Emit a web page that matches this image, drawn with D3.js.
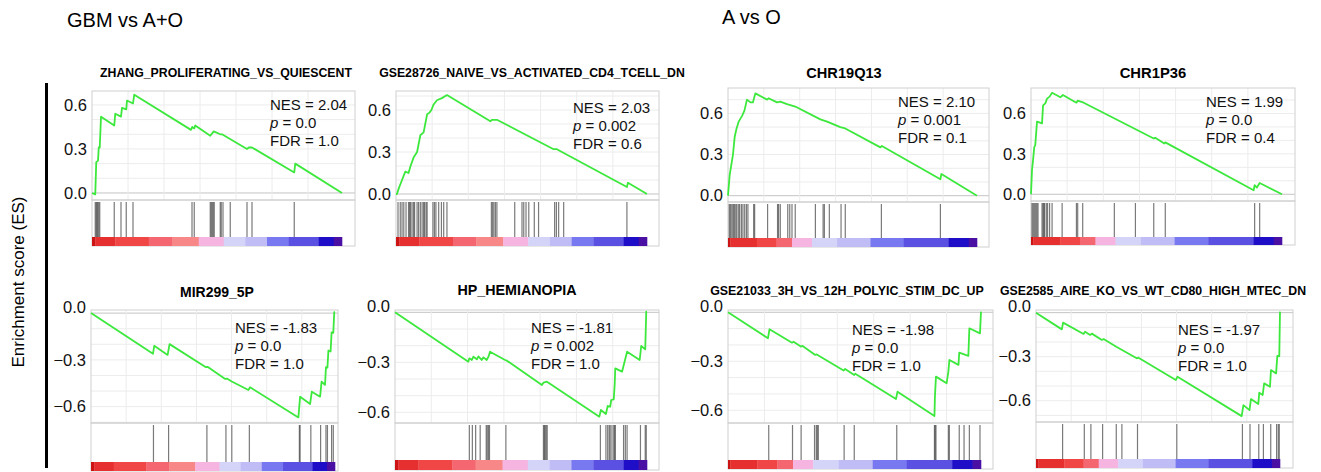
<!DOCTYPE html>
<html>
<head>
<meta charset="utf-8">
<script src="https://cdn.jsdelivr.net/npm/d3@7"></script>
<style>
  body { margin: 0; background: #fff; }
  text { font-family: "Liberation Sans", Arial, Helvetica, sans-serif; }
</style>
</head>
<body>
<svg id="chart" width="1321" height="472"></svg>
<script>
// gene set names, stats
var titles = ["ZHANG_PROLIFERATING_VS_QUIESCENT", "GSE28726_NAIVE_VS_ACTIVATED_CD4_TCELL_DN",
  "CHR19Q13", "CHR1P36", "MIR299_5P", "HP_HEMIANOPIA",
  "GSE21033_3H_VS_12H_POLYIC_STIM_DC_UP", "GSE2585_AIRE_KO_VS_WT_CD80_HIGH_MTEC_DN"];
var nesValues = ["2.04", "2.03", "2.10", "1.99", "-1.83", "-1.81", "-1.98", "-1.97"];
var pValues = ["0.0", "0.002", "0.001", "0.0", "0.0", "0.002", "0.0", "0.0"];
var fdrValues = ["1.0", "0.6", "0.1", "0.4", "1.0", "1.0", "1.0", "1.0"];
var ticksUp = [0, 0.3, 0.6];
var ticksDown = [0, -0.3, -0.6];
var rankGrid = [14.4, 28.8, 43.2, 57.6, 72, 86.4];   // rank in % of the ranked list

// running ES curves, [rank %, ES]
var esZhang = [[0,0],[1.3,-0.01],[1.7,0.21],[2.4,0.22],[2.7,0.31],[3.1,0.31],[3.6,0.52],[8.9,0.46],[9.3,0.54],
  [11.6,0.52],[12,0.58],[13.7,0.57],[14,0.63],[16.4,0.61],[16.9,0.67],[39.6,0.43],[40.1,0.45],[40.9,0.44],
  [41.3,0.46],[47.3,0.39],[48.7,0.42],[51.3,0.40],[52,0.40],[62,0.30],[62.7,0.31],[64,0.31],[80.9,0.14],
  [81.3,0.20],[100,0]];
var esNaive = [[0,0],[0.4,0],[1.1,0.04],[2.4,0.10],[3.7,0.16],[5.0,0.15],[5.7,0.195],[7.0,0.26],[8.4,0.30],
  [9.7,0.42],[11.0,0.44],[12.4,0.57],[13.3,0.58],[14.1,0.60],[15.0,0.64],[16.3,0.67],[18.3,0.685],[20.3,0.707],
  [37.6,0.52],[38.2,0.53],[40.2,0.53],[62.8,0.32],[64.1,0.32],[66.1,0.30],[92.0,0.05],[92.4,0.08],[100,0]];
var esChr19 = [[0,0],[0.67,0.15],[1.2,0.21],[2.0,0.30],[2.7,0.43],[3.3,0.48],[4.3,0.54],[5.6,0.58],[6.6,0.62],
  [7.6,0.70],[9.0,0.68],[10.0,0.68],[11.0,0.746],[15.7,0.70],[16.3,0.71],[19.7,0.68],[21.0,0.685],[23.7,0.668],
  [27.0,0.65],[37.1,0.556],[39.8,0.54],[45.1,0.50],[47.1,0.49],[61.2,0.352],[61.8,0.362],[85.3,0.12],
  [85.7,0.158],[100,0]];
var esChr1 = [[0,0],[0.4,0.18],[0.8,0.25],[1.3,0.35],[1.7,0.365],[2.4,0.54],[4.4,0.526],[4.8,0.66],[5.7,0.675],
  [6.4,0.71],[7.4,0.725],[8.4,0.754],[11.7,0.72],[12.7,0.737],[18.1,0.68],[18.6,0.695],[21.0,0.68],
  [48.9,0.414],[49.5,0.42],[53.1,0.377],[53.5,0.385],[88.7,0.03],[89.1,0.067],[90.0,0.05],[91.1,0.084],[100,0]];
var esMir = [[0,0],[25.4,-0.261],[25.9,-0.21],[31.4,-0.268],[32.2,-0.199],[47.1,-0.347],[47.9,-0.345],
  [55.0,-0.422],[55.7,-0.42],[57.7,-0.439],[64.5,-0.493],[65.2,-0.476],[85.0,-0.669],[85.7,-0.536],
  [89.8,-0.583],[90.5,-0.504],[93.9,-0.536],[94.5,-0.439],[95.9,-0.461],[96.3,-0.347],[96.9,-0.35],
  [97.3,-0.24],[98.2,-0.246],[98.6,-0.124],[99.3,-0.126],[99.7,0.006],[100,0.006]];
var esHemi = [[0,0],[29.1,-0.296],[29.5,-0.276],[30.5,-0.286],[31.1,-0.266],[32.5,-0.282],[33.1,-0.264],
  [34.4,-0.286],[35.1,-0.27],[36.4,-0.286],[37.1,-0.266],[37.7,-0.236],[43.7,-0.286],[44.4,-0.29],
  [58.3,-0.436],[58.9,-0.422],[60.3,-0.416],[81.1,-0.626],[81.7,-0.586],[83.7,-0.61],[84.4,-0.562],
  [85.4,-0.566],[85.8,-0.526],[86.8,-0.522],[87.2,-0.426],[87.4,-0.336],[90.1,-0.356],[92.1,-0.236],
  [97.1,-0.286],[97.7,-0.202],[99.3,-0.222],[99.7,0.004],[100,0.004]];
var esPolyic = [[0,0],[15.8,-0.159],[16.4,-0.104],[25.3,-0.186],[25.9,-0.18],[28.8,-0.21],[29.5,-0.206],
  [34.5,-0.261],[35.1,-0.258],[36.4,-0.271],[45.7,-0.357],[46.3,-0.347],[49.9,-0.384],[50.3,-0.376],
  [66.4,-0.531],[67.0,-0.486],[81.6,-0.635],[81.8,-0.512],[82.2,-0.394],[86.4,-0.435],[87.1,-0.363],
  [87.5,-0.292],[91.1,-0.322],[91.4,-0.247],[95.0,-0.267],[95.4,-0.098],[99.6,-0.129],[100,0.004]];
var esAire = [[0,0],[10.6,-0.114],[11.1,-0.068],[19.5,-0.145],[20.1,-0.13],[22.2,-0.152],[22.9,-0.143],
  [27.0,-0.186],[27.7,-0.18],[32.9,-0.232],[41.3,-0.311],[42.0,-0.307],[57.3,-0.459],[58.0,-0.436],
  [84.3,-0.705],[85.0,-0.63],[87.5,-0.664],[88.1,-0.589],[91.1,-0.623],[91.5,-0.545],[92.9,-0.561],
  [93.5,-0.482],[95.9,-0.505],[96.3,-0.391],[98.4,-0.414],[98.9,-0.295],[99.7,-0.297],[100,0.007]];

// positions of gene set members in the ranked list (rank %)
var hitsZhang = [1.3,1.7,2.0,2.3,2.7,3.1,8.9,11.6,13.7,16.4,40.0,40.9,47.3,47.7,48.1,48.5,48.9,51.3,51.7,52.4,55.3,62,64,80.9];
var hitsNaive = [0.8,1.7,2.4,3.1,4.0,5.0,5.4,5.8,6.4,7.0,7.4,8.4,9.0,9.7,10.4,11.0,11.4,12.0,12.4,14.7,15.3,15.9,17.0,
  18.1,19.0,20.3,38.0,38.5,39.0,39.6,40.2,47.3,50.2,50.9,51.8,52.9,55.1,56.8,63.2,63.9,64.8,66.8,92.0];
var hitsChr19 = [0.5,0.9,1.3,1.9,2.3,2.7,3.2,3.6,4.3,4.7,5.4,6.0,6.7,7.4,8.0,10.3,10.7,15.9,19.9,20.3,21.0,24.0,24.8,
  25.7,27.0,35.1,38.2,38.7,40.7,45.4,47.1,61.6,85.3];
var hitsChr1 = [0.4,0.8,1.2,1.6,2.0,2.4,2.8,4.4,4.8,5.1,5.4,6.1,6.6,7.4,8.4,12.4,18.1,18.6,20.6,33.2,41.6,48.9,53.5,89.1,91.1];
var hitsMir = [25.6,31.8,47.5,55.3,57.7,64.9,85.4,85.7,90.1,94.1,96.3,96.9,98.6,99.3];
var hitsHemi = [29.5,30.7,32.0,33.8,36.2,36.6,37.1,37.5,44.0,58.9,59.3,59.6,60.0,60.4,81.5,83.7,84.4,85.0,85.4,86.1,
  86.8,87.2,87.4,90.7,91.4,92.1,97.4,99.3,99.7];
var hitsPolyic = [16.1,25.5,28.9,34.2,34.9,35.3,35.7,45.9,49.9,66.7,81.6,81.9,82.2,87.1,87.5,91.4,93.3,95.4,99.6];
var hitsAire = [10.9,19.8,22.5,27.3,32.9,35.2,41.6,57.7,84.6,87.7,91.3,93.2,96.2,98.6,99.3,99.7];

// ranked list colour bar: segment starts (rank %) and metric level of each segment
var barGbmStarts = [0, 1.3, 9.3, 22.7, 32, 42.7, 52.7, 61.3, 70, 78.7, 90.7, 96.7];
var barGbmLevels = [0, 1, 2, 3, 4, 5, 6, 7, 8, 9, 10, 11];
var barAvoStarts = [0, 0.9, 11.6, 19.5, 25.7, 33.7, 43.8, 57.2, 70.6, 88.6, 96.7];
var barAvoLevels = [0, 1, 2, 3, 5, 6, 7, 8, 9, 10, 11];

var palette = ["#cc1414", "#e63030", "#f04646", "#f46670", "#f88888", "#f6b4e0",
  "#d4d4f8", "#c0bcf6", "#7878f0", "#5a50e2", "#1e0ec8", "#4a10a4"];

// panel boxes on the page
var boxes = [
  {left: 92,   right: 355,  dataRight: 342,  top: 91,  esBottom: 200, hitBottom: 237, barBottom: 246, yDom: [-0.048, 0.695], titleX: 226,  titleY: 77,  titleSize: 12.3, statX: 270,  statY: 110},
  {left: 396,  right: 659,  dataRight: 647,  top: 91,  esBottom: 200, hitBottom: 237, barBottom: 246, yDom: [-0.043, 0.736], titleX: 532,  titleY: 77,  titleSize: 12.3, statX: 573,  statY: 113},
  {left: 728,  right: 989,  dataRight: 977,  top: 88,  esBottom: 202, hitBottom: 238, barBottom: 247, yDom: [-0.046, 0.785], titleX: 844,  titleY: 78,  titleSize: 14.6, statX: 898,  statY: 107},
  {left: 1031, right: 1295, dataRight: 1282, top: 88,  esBottom: 201, hitBottom: 237, barBottom: 245, yDom: [-0.05, 0.789],  titleX: 1153, titleY: 78,  titleSize: 14.8, statX: 1206, statY: 107},
  {left: 91,   right: 338,  dataRight: 335,  top: 310, esBottom: 423, hitBottom: 462, barBottom: 471, yDom: [-0.705, 0.02],  titleX: 217,  titleY: 297, titleSize: 14,   statX: 235,  statY: 333},
  {left: 395,  right: 659,  dataRight: 647,  top: 310, esBottom: 423, hitBottom: 460, barBottom: 470, yDom: [-0.664, 0.014], titleX: 517,  titleY: 295, titleSize: 14.3, statX: 531,  statY: 333},
  {left: 728,  right: 993,  dataRight: 981,  top: 310, esBottom: 423, hitBottom: 460, barBottom: 469, yDom: [-0.678, 0.014], titleX: 847,  titleY: 295, titleSize: 12.4, statX: 852,  statY: 335},
  {left: 1036, right: 1293, dataRight: 1280, top: 310, esBottom: 422, hitBottom: 459, barBottom: 468, yDom: [-0.745, 0.018], titleX: 1153, titleY: 295, titleSize: 12.3, statX: 1178, statY: 335}
];

var curves = [esZhang, esNaive, esChr19, esChr1, esMir, esHemi, esPolyic, esAire];
var hitSets = [hitsZhang, hitsNaive, hitsChr19, hitsChr1, hitsMir, hitsHemi, hitsPolyic, hitsAire];
// GBM vs A+O panels are 0,1,4,5; A vs O are 2,3,6,7
var barStarts = [barGbmStarts, barGbmStarts, barAvoStarts, barAvoStarts, barGbmStarts, barGbmStarts, barAvoStarts, barAvoStarts];
var barLevels = [barGbmLevels, barGbmLevels, barAvoLevels, barAvoLevels, barGbmLevels, barGbmLevels, barAvoLevels, barAvoLevels];

var svg = d3.select("#chart");

// headers
svg.append("text").attr("x", 67).attr("y", 27).attr("font-size", 20).text("GBM vs A+O");
svg.append("text").attr("x", 722).attr("y", 24).attr("font-size", 20).text("A vs O");

// shared y label and bar
svg.append("line")
  .attr("x1", 46.5).attr("x2", 46.5).attr("y1", 83).attr("y2", 468)
  .attr("stroke", "#000").attr("stroke-width", 3);
svg.append("text")
  .attr("transform", "translate(24, 282) rotate(-90)")
  .attr("text-anchor", "middle")
  .attr("font-size", 17)
  .text("Enrichment score (ES)");

boxes.forEach(function(b, i) {
  var g = svg.append("g");
  var x = d3.scaleLinear().domain([0, 100]).range([b.left, b.dataRight]);
  var y = d3.scaleLinear().domain(b.yDom).range([b.esBottom, b.top]);

  // grid
  var hGrid = d3.range(Math.ceil(b.yDom[0] * 10), Math.floor(b.yDom[1] * 10) + 1).map(function(k) { return k / 10; });
  g.selectAll(".hg").data(hGrid).enter().append("line")
    .attr("x1", b.left).attr("x2", b.right)
    .attr("y1", d => y(d)).attr("y2", d => y(d))
    .attr("stroke", d => Math.abs(d) < 1e-9 ? "#c4c4c4" : "#ececec");
  g.selectAll(".vg").data(rankGrid).enter().append("line")
    .attr("x1", d => x(d)).attr("x2", d => x(d))
    .attr("y1", b.top).attr("y2", b.esBottom)
    .attr("stroke", "#ececec");

  // frames
  g.append("rect").attr("x", b.left).attr("y", b.top)
    .attr("width", b.right - b.left).attr("height", b.esBottom - b.top)
    .attr("fill", "none").attr("stroke", "#d0d0d0");
  g.append("rect").attr("x", b.left).attr("y", b.esBottom)
    .attr("width", b.right - b.left).attr("height", b.barBottom - b.esBottom)
    .attr("fill", "none").attr("stroke", "#d0d0d0");

  // y axis labels
  var yAxis = d3.axisLeft(y).tickValues(b.yDom[0] < -0.3 ? ticksDown : ticksUp)
    .tickSize(0).tickPadding(5).tickFormat(d3.format(".1f"));
  var ax = g.append("g").attr("transform", "translate(" + b.left + ",0)").call(yAxis);
  ax.select(".domain").remove();
  ax.selectAll("text").attr("font-size", 16.5).attr("fill", "#111")
    .attr("font-family", "'Liberation Sans', Arial, sans-serif");
  if (b.yDom[0] < -0.3) {
    ax.selectAll("text").filter(d => d === 0).attr("dy", "-0.05em");
  }

  // hits
  g.selectAll(".hit").data(hitSets[i]).enter().append("line")
    .attr("x1", d => x(d)).attr("x2", d => x(d))
    .attr("y1", b.esBottom + 2).attr("y2", b.hitBottom)
    .attr("stroke", "#333").attr("stroke-opacity", 0.65).attr("stroke-width", 1.2);

  // colour bar
  var starts = barStarts[i];
  var segs = starts.map(function(s, k) {
    return {a: s, b: k + 1 < starts.length ? starts[k + 1] : 100, lev: barLevels[i][k]};
  });
  g.selectAll(".seg").data(segs).enter().append("rect")
    .attr("x", d => x(d.a)).attr("width", d => x(d.b) - x(d.a) + 0.3)
    .attr("y", b.hitBottom).attr("height", b.barBottom - b.hitBottom)
    .attr("fill", d => palette[d.lev]);

  // ES line
  var line = d3.line().x(d => x(d[0])).y(d => y(d[1]));
  g.append("path").datum(curves[i]).attr("d", line)
    .attr("fill", "none").attr("stroke", "#3de83d").attr("stroke-width", 1.8)
    .attr("stroke-linejoin", "round");

  // title
  g.append("text").attr("x", b.titleX).attr("y", b.titleY)
    .attr("text-anchor", "middle").attr("font-weight", "bold")
    .attr("font-size", b.titleSize)
    .text(titles[i]);

  // stats
  var st = g.append("text").attr("font-size", 15).attr("fill", "#111");
  st.append("tspan").attr("x", b.statX).attr("y", b.statY).text("NES = " + nesValues[i]);
  var t2 = st.append("tspan").attr("x", b.statX).attr("y", b.statY + 18);
  t2.append("tspan").attr("font-style", "italic").text("p");
  t2.append("tspan").text(" = " + pValues[i]);
  st.append("tspan").attr("x", b.statX).attr("y", b.statY + 36).text("FDR = " + fdrValues[i]);
});
</script>
</body>
</html>
